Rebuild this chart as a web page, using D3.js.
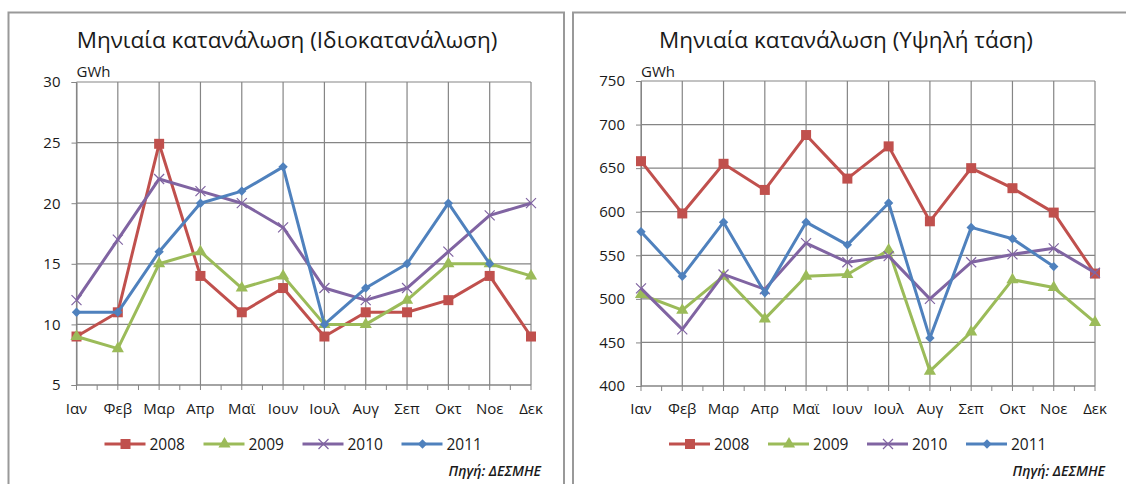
<!DOCTYPE html>
<html>
<head>
<meta charset="utf-8">
<script src="https://cdn.jsdelivr.net/npm/d3@7"></script>
<style>
  body { margin: 0; background: #fff; }
  svg { display: block; font-family: "Open Sans", sans-serif; }
</style>
</head>
<body>
<svg id="chart" width="1126" height="484"></svg>
<script>
// monthly consumption, GWh
const months = ['Ιαν', 'Φεβ', 'Μαρ', 'Απρ', 'Μαϊ', 'Ιουν', 'Ιουλ', 'Αυγ', 'Σεπ', 'Οκτ', 'Νοε', 'Δεκ'];
const years = ['2008', '2009', '2010', '2011'];

// Ιδιοκατανάλωση
const own2008 = [9, 11, 24.9, 14, 11, 13, 9, 11, 11, 12, 14, 9];
const own2009 = [9, 8, 15, 16, 13, 14, 10, 10, 12, 15, 15, 14];
const own2010 = [12, 17, 22, 21, 20, 18, 13, 12, 13, 16, 19, 20];
const own2011 = [11, 11, 16, 20, 21, 23, 10, 13, 15, 20, 15, null];
const ownTicks = [5, 10, 15, 20, 25, 30];

// Υψηλή τάση
const high2008 = [658, 598, 655, 625, 688, 638, 675, 589, 650, 627, 599, 529];
const high2009 = [505, 487, 526, 477, 526, 528, 556, 417, 462, 522, 513, 473];
const high2010 = [512, 465, 528, 511, 564, 542, 549, 500, 542, 551, 558, 530];
const high2011 = [577, 526, 588, 507, 588, 562, 610, 455, 582, 569, 537, null];
const highTicks = [400, 450, 500, 550, 600, 650, 700, 750];

const colors = ['#C0504D', '#9BBB59', '#8064A2', '#4F81BD'];
const markerTypes = ['square', 'triangle', 'cross', 'diamond'];
const gridColor = '#858585';
const textColor = '#1a1a1a';

const svg = d3.select('#chart');

function drawMarker(g, type, color) {
    if (type === 'square') {
        g.append('path').attr('d', d3.symbol(d3.symbolSquare, 100)()).attr('fill', color);
    } else if (type === 'triangle') {
        g.append('path').attr('d', d3.symbol(d3.symbolTriangle, 64)()).attr('fill', color);
    } else if (type === 'diamond') {
        g.append('path').attr('d', d3.symbol(d3.symbolDiamond2, 56)()).attr('fill', color);
    } else {
        g.append('path').attr('d', 'M-5,-5L5,5M-5,5L5,-5')
            .attr('stroke', color).attr('stroke-width', 1.2).attr('fill', 'none');
    }
}

function drawChart(cfg) {
    const g = svg.append('g');

    // chart frame (runs past the bottom of the picture)
    g.append('rect')
        .attr('x', cfg.frame[0]).attr('y', cfg.frame[1])
        .attr('width', cfg.frame[2]).attr('height', cfg.frame[3])
        .attr('fill', '#fff').attr('stroke', '#999').attr('stroke-width', 2);

    const x = d3.scalePoint().domain(months).range([cfg.x0, cfg.x1]);
    const y = d3.scaleLinear().domain(d3.extent(cfg.ticks)).range([cfg.yBottom, cfg.yTop]);

    // gridlines
    g.append('g').selectAll('line.h').data(cfg.ticks).join('line')
        .attr('x1', cfg.x0).attr('x2', cfg.x1)
        .attr('y1', d => y(d)).attr('y2', d => y(d))
        .attr('stroke', gridColor).attr('stroke-width', 1.2);
    g.append('g').selectAll('line.v').data(months).join('line')
        .attr('x1', d => x(d)).attr('x2', d => x(d))
        .attr('y1', cfg.yTop).attr('y2', cfg.yBottom)
        .attr('stroke', gridColor).attr('stroke-width', 1.2);

    // y axis
    const yAxis = g.append('g')
        .attr('transform', `translate(${cfg.x0},0)`)
        .call(d3.axisLeft(y).tickValues(cfg.ticks).tickSize(5).tickPadding(11));
    yAxis.select('.domain').attr('stroke', gridColor);
    yAxis.selectAll('.tick line').attr('stroke', gridColor);
    yAxis.selectAll('.tick text')
        .attr('fill', textColor).style('font-size', '15px').style('font-family', '"Open Sans", sans-serif');

    // x axis, ticks at months and half months
    const step = x.step();
    const tickPos = [];
    months.forEach((m, i) => {
        tickPos.push(x(m));
        if (i < months.length - 1) tickPos.push(x(m) + step / 2);
    });
    g.append('line')
        .attr('x1', cfg.x0).attr('x2', cfg.x1)
        .attr('y1', cfg.yBottom).attr('y2', cfg.yBottom)
        .attr('stroke', gridColor);
    g.append('g').selectAll('line').data(tickPos).join('line')
        .attr('x1', d => d).attr('x2', d => d)
        .attr('y1', cfg.yBottom).attr('y2', cfg.yBottom + 5)
        .attr('stroke', gridColor);
    g.append('g').selectAll('text').data(months).join('text')
        .attr('x', d => x(d)).attr('y', 414)
        .attr('text-anchor', 'middle')
        .attr('fill', textColor).style('font-size', '15px')
        .text(d => d);

    // titles
    g.append('text')
        .attr('x', cfg.titleX).attr('y', 48)
        .attr('text-anchor', 'middle')
        .attr('fill', textColor).style('font-size', '22.5px')
        .text(cfg.title);
    g.append('text')
        .attr('x', cfg.x0).attr('y', 77)
        .attr('fill', textColor).style('font-size', '15px')
        .text('GWh');

    // series
    const line = d3.line()
        .defined(d => d.v != null)
        .x(d => x(d.m)).y(d => y(d.v));
    cfg.series.forEach((vals, si) => {
        const pts = vals.map((v, i) => ({ m: months[i], v: v }));
        g.append('path')
            .datum(pts)
            .attr('d', line)
            .attr('fill', 'none')
            .attr('stroke', colors[si])
            .attr('stroke-width', 3)
            .attr('stroke-linejoin', 'round');
        g.append('g').selectAll('g').data(pts.filter(d => d.v != null)).join('g')
            .attr('transform', d => `translate(${x(d.m)},${y(d.v)})`)
            .each(function () { drawMarker(d3.select(this), markerTypes[si], colors[si]); });
    });

    // legend
    const lg = g.append('g').attr('transform', `translate(${cfg.x0 + 28},444)`);
    years.forEach((yr, i) => {
        const e = lg.append('g').attr('transform', `translate(${i * 99},0)`);
        e.append('line').attr('x1', 0).attr('x2', 41)
            .attr('stroke', colors[i]).attr('stroke-width', 3);
        const m = e.append('g').attr('transform', 'translate(21,0)');
        drawMarker(m, markerTypes[i], colors[i]);
        e.append('text').attr('x', 45).attr('y', 5.5)
            .attr('fill', textColor).style('font-size', '15.5px')
            .text(yr);
    });

    // source
    g.append('text')
        .attr('x', cfg.x1 + 10).attr('y', 476)
        .attr('text-anchor', 'end')
        .attr('fill', textColor)
        .style('font-size', '14px').style('font-style', 'italic').style('font-weight', 600)
        .text('Πηγή: ΔΕΣΜΗΕ');
}

drawChart({
    title: 'Μηνιαία κατανάλωση (Ιδιοκατανάλωση)',
    frame: [8.5, 12.5, 555.5, 520],
    titleX: 287,
    x0: 76.5, x1: 531,
    yTop: 82, yBottom: 385,
    ticks: ownTicks,
    series: [own2008, own2009, own2010, own2011]
});

drawChart({
    title: 'Μηνιαία κατανάλωση (Υψηλή τάση)',
    frame: [573, 12.5, 560, 520],
    titleX: 846,
    x0: 641, x1: 1095,
    yTop: 81, yBottom: 386,
    ticks: highTicks,
    series: [high2008, high2009, high2010, high2011]
});
</script>
</body>
</html>
